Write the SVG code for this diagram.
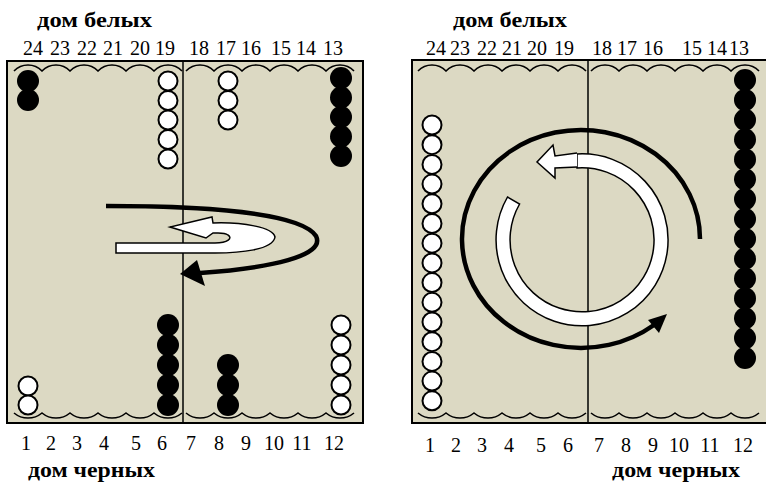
<svg xmlns="http://www.w3.org/2000/svg" width="766" height="483" viewBox="0 0 766 483">
<style>
.board{fill:#dcd9c3;stroke:#000;stroke-width:2}
.bar{stroke:#000;stroke-width:1.5}
.wave{fill:none;stroke:#000;stroke-width:1.6}
.w{fill:#fff;stroke:#000;stroke-width:2}
.b{fill:#000}
text{font-family:"Liberation Serif","Times New Roman",Times,Tinos,"DejaVu Serif","Noto Serif",serif}
.num{font-size:20px;text-anchor:middle;fill:#000}
.lbl{font-size:21px;font-weight:bold;fill:#000}
.blk{fill:none;stroke:#000;stroke-width:4.5}
.wht{fill:#fff;stroke:#000;stroke-width:1.5;stroke-linejoin:miter}
</style>
<g id="board-left">
<rect class="board" x="7" y="61" width="356" height="362"/>
<line class="bar" x1="183" y1="61" x2="183" y2="423"/>
<path class="wave" d="M14,71 a19.3,19.3 0 0 1 28,0 a19.3,19.3 0 0 1 28,0 a19.3,19.3 0 0 1 28,0 a19.3,19.3 0 0 1 28,0 a19.3,19.3 0 0 1 28,0 a19.3,19.3 0 0 1 28,0 M186,71 a19.3,19.3 0 0 1 28,0 a19.3,19.3 0 0 1 28,0 a19.3,19.3 0 0 1 28,0 a19.3,19.3 0 0 1 28,0 a19.3,19.3 0 0 1 28,0 a19.3,19.3 0 0 1 28,0"/>
<path class="wave" d="M14,413 a22,22 0 0 0 28,0 a22,22 0 0 0 28,0 a22,22 0 0 0 28,0 a22,22 0 0 0 28,0 a22,22 0 0 0 28,0 a22,22 0 0 0 28,0 M186,413 a22,22 0 0 0 28,0 a22,22 0 0 0 28,0 a22,22 0 0 0 28,0 a22,22 0 0 0 28,0 a22,22 0 0 0 28,0 a22,22 0 0 0 28,0"/>
</g>
<g id="checkers-left">
<circle class="b" cx="28" cy="81" r="11"/><circle class="b" cx="28" cy="100" r="11"/>
<circle class="w" cx="168" cy="81" r="9.5"/><circle class="w" cx="168" cy="100.5" r="9.5"/><circle class="w" cx="168" cy="120" r="9.5"/><circle class="w" cx="168" cy="139.5" r="9.5"/><circle class="w" cx="168" cy="159" r="9.5"/>
<circle class="w" cx="228" cy="81" r="9.5"/><circle class="w" cx="228" cy="100.5" r="9.5"/><circle class="w" cx="228" cy="120" r="9.5"/>
<circle class="b" cx="341" cy="78" r="11"/><circle class="b" cx="341" cy="97.5" r="11"/><circle class="b" cx="341" cy="117" r="11"/><circle class="b" cx="341" cy="136.5" r="11"/><circle class="b" cx="341" cy="156" r="11"/>
<circle class="w" cx="28" cy="386" r="9.5"/><circle class="w" cx="28" cy="405" r="9.5"/>
<circle class="b" cx="168" cy="325" r="11"/><circle class="b" cx="168" cy="345" r="11"/><circle class="b" cx="168" cy="365" r="11"/><circle class="b" cx="168" cy="385" r="11"/><circle class="b" cx="168" cy="405" r="11"/>
<circle class="b" cx="228" cy="365" r="11"/><circle class="b" cx="228" cy="385" r="11"/><circle class="b" cx="228" cy="405" r="11"/>
<circle class="w" cx="341" cy="325" r="9.5"/><circle class="w" cx="341" cy="345" r="9.5"/><circle class="w" cx="341" cy="365" r="9.5"/><circle class="w" cx="341" cy="385" r="9.5"/><circle class="w" cx="341" cy="405" r="9.5"/>
</g>
<g id="labels-left">
<text class="lbl" x="37" y="27" textLength="115" lengthAdjust="spacingAndGlyphs">дом белых</text>
<text class="num" y="55"><tspan x="33">24</tspan><tspan x="60">23</tspan><tspan x="87">22</tspan><tspan x="113">21</tspan><tspan x="140">20</tspan><tspan x="165">19</tspan><tspan x="199">18</tspan><tspan x="226">17</tspan><tspan x="251">16</tspan><tspan x="281">15</tspan><tspan x="306">14</tspan><tspan x="333">13</tspan></text>
<text class="num" y="450"><tspan x="26">1</tspan><tspan x="51">2</tspan><tspan x="77">3</tspan><tspan x="104">4</tspan><tspan x="136">5</tspan><tspan x="162">6</tspan><tspan x="191">7</tspan><tspan x="219">8</tspan><tspan x="246">9</tspan><tspan x="274">10</tspan><tspan x="302">11</tspan><tspan x="334">12</tspan></text>
<text class="lbl" x="28" y="477" textLength="127" lengthAdjust="spacingAndGlyphs">дом черных</text>
</g>
<g id="board-right">
<rect class="board" x="412" y="60" width="360" height="363"/>
<line class="bar" x1="588" y1="60" x2="588" y2="423"/>
<path class="wave" d="M418,71 a19.3,19.3 0 0 1 28,0 a19.3,19.3 0 0 1 28,0 a19.3,19.3 0 0 1 28,0 a19.3,19.3 0 0 1 28,0 a19.3,19.3 0 0 1 28,0 a19.3,19.3 0 0 1 28,0 M591,71 a19.3,19.3 0 0 1 28,0 a19.3,19.3 0 0 1 28,0 a19.3,19.3 0 0 1 28,0 a19.3,19.3 0 0 1 28,0 a19.3,19.3 0 0 1 28,0 a19.3,19.3 0 0 1 28,0"/>
<path class="wave" d="M418,413 a22,22 0 0 0 28,0 a22,22 0 0 0 28,0 a22,22 0 0 0 28,0 a22,22 0 0 0 28,0 a22,22 0 0 0 28,0 a22,22 0 0 0 28,0 M591,413 a22,22 0 0 0 28,0 a22,22 0 0 0 28,0 a22,22 0 0 0 28,0 a22,22 0 0 0 28,0 a22,22 0 0 0 28,0 a22,22 0 0 0 28,0"/>
</g>
<g id="checkers-right">
<circle class="w" cx="432" cy="125" r="9.5"/><circle class="w" cx="432" cy="144.7" r="9.5"/><circle class="w" cx="432" cy="164.4" r="9.5"/><circle class="w" cx="432" cy="184.1" r="9.5"/><circle class="w" cx="432" cy="203.8" r="9.5"/><circle class="w" cx="432" cy="223.5" r="9.5"/><circle class="w" cx="432" cy="243.2" r="9.5"/><circle class="w" cx="432" cy="262.9" r="9.5"/><circle class="w" cx="432" cy="282.6" r="9.5"/><circle class="w" cx="432" cy="302.3" r="9.5"/><circle class="w" cx="432" cy="322" r="9.5"/><circle class="w" cx="432" cy="341.7" r="9.5"/><circle class="w" cx="432" cy="361.4" r="9.5"/><circle class="w" cx="432" cy="381.1" r="9.5"/><circle class="w" cx="432" cy="400.8" r="9.5"/>
<circle class="b" cx="745" cy="80" r="11"/><circle class="b" cx="745" cy="99.9" r="11"/><circle class="b" cx="745" cy="119.7" r="11"/><circle class="b" cx="745" cy="139.6" r="11"/><circle class="b" cx="745" cy="159.4" r="11"/><circle class="b" cx="745" cy="179.3" r="11"/><circle class="b" cx="745" cy="199.1" r="11"/><circle class="b" cx="745" cy="219" r="11"/><circle class="b" cx="745" cy="238.9" r="11"/><circle class="b" cx="745" cy="258.7" r="11"/><circle class="b" cx="745" cy="278.6" r="11"/><circle class="b" cx="745" cy="298.4" r="11"/><circle class="b" cx="745" cy="318.3" r="11"/><circle class="b" cx="745" cy="338.1" r="11"/><circle class="b" cx="745" cy="358" r="11"/>
</g>
<g id="labels-right">
<text class="lbl" x="453" y="27" textLength="114" lengthAdjust="spacingAndGlyphs">дом белых</text>
<text class="num" y="55"><tspan x="436">24</tspan><tspan x="460">23</tspan><tspan x="487">22</tspan><tspan x="512">21</tspan><tspan x="537">20</tspan><tspan x="564">19</tspan><tspan x="602">18</tspan><tspan x="627">17</tspan><tspan x="653">16</tspan><tspan x="692">15</tspan><tspan x="717">14</tspan><tspan x="739">13</tspan></text>
<text class="num" y="452"><tspan x="430">1</tspan><tspan x="456">2</tspan><tspan x="482">3</tspan><tspan x="509">4</tspan><tspan x="541">5</tspan><tspan x="568">6</tspan><tspan x="599">7</tspan><tspan x="626">8</tspan><tspan x="653">9</tspan><tspan x="679">10</tspan><tspan x="710">11</tspan><tspan x="743">12</tspan></text>
<text class="lbl" x="612" y="477" textLength="128" lengthAdjust="spacingAndGlyphs">дом черных</text>
</g>
<g id="connectors">
<path class="blk" d="M106,206 C200,206 300,212 316,236 C326,256 270,268 200,273"/>
<polygon points="180,274 197,260 205,286" fill="#000"/>
<path class="wht" d="M116,243 L215,243 C228,243 233,238 228,235 C224,232 218,233 213,233 L206,238 L170,227 L212,217 L213,223 C242,222 273,227 275,237 C273,250 240,253 215,253 L116,253 Z"/>
<path class="blk" d="M700,239 A119,109 0 1 0 654,325"/>
<polygon points="667,314 648,320 659,333" fill="#000"/>
<path class="wht" d="M507.5,197 A86,86 0 1 0 577,154 L577,168 A72,72 0 1 1 519.6,204 Z"/>
<path class="wht" d="M577,153 L555,156 L553,145 L537,162 L555,178 L555,168 L577,167"/>
</g>
</svg>
